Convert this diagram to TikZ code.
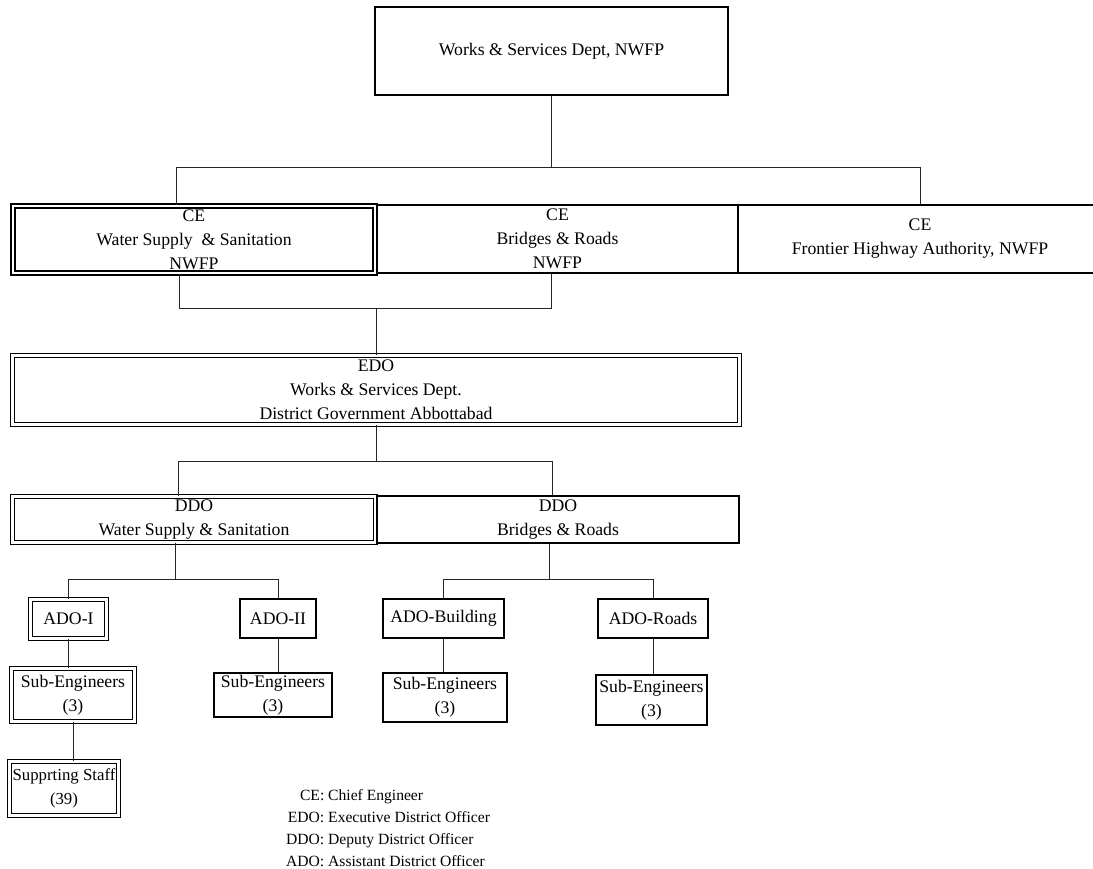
\documentclass[tikz,border=0pt]{standalone}
\usepackage{fontspec}
\setmainfont{Liberation Serif}
\newcommand\bigtxt{\fontsize{17.7}{24}\selectfont}
\newcommand\stafftxt{\fontsize{16.8}{24}\selectfont}
\newcommand\legtxt{\fontsize{15.6}{22}\selectfont}
\begin{document}
\begin{tikzpicture}[x=1pt,y=-1pt,
  box/.style={draw, line width=1.9pt, inner sep=0pt, align=center, font=\bigtxt},
  smallbox/.style={draw, line width=1.2pt, inner sep=0pt, align=center, font=\bigtxt},
  dbox/.style={draw, double, line width=1.75pt, double distance=2.2pt, inner sep=0pt, align=center, font=\bigtxt},
  conn/.style={line width=0.9pt, draw=black!85}]
\clip (0,0) rectangle (1093,869);
\fill[white] (0,0) rectangle (1093,869);

% top
\node[box, minimum width=353pt, minimum height=88pt] (top) at (551.5,51) {Works \& Services Dept, NWFP};

% CE row
\node[dbox, minimum width=362pt, minimum height=67pt] (ceWSS) at (194,239.5) {CE\\Water Supply\ \ \& Sanitation\\NWFP};
\node[box, minimum width=361pt, minimum height=68pt] (ceBR) at (557.5,239) {CE\\Bridges \& Roads\\NWFP};
\node[box, minimum width=364pt, minimum height=68pt] (ceFHA) at (920,239) {CE\\Frontier Highway Authority, NWFP};

% EDO
\node[dbox, minimum width=727pt, minimum height=69pt] (edo) at (376,390) {EDO\\Works \& Services Dept.\\District Government Abbottabad};

% DDO row
\node[dbox, minimum width=363pt, minimum height=46pt] (ddoWSS) at (194,519.5) {DDO\\Water Supply \& Sanitation};
\node[box, minimum width=362pt, minimum height=47pt] (ddoBR) at (558,519.5) {DDO\\Bridges \& Roads};

% ADO row
\node[dbox, minimum width=76pt, minimum height=39pt] (adoI) at (68.5,619) {ADO-I};
\node[smallbox, minimum width=76pt, minimum height=39pt] (adoII) at (278,618.5) {ADO-II};
\node[smallbox, minimum width=121pt, minimum height=39pt] (adoB) at (443.5,618.5) {ADO-Building};
\node[smallbox, minimum width=110pt, minimum height=39pt] (adoR) at (653,618.5) {ADO-Roads};

% Sub-engineers
\node[dbox, minimum width=123pt, minimum height=53pt] (seI) at (73,695) {Sub-Engineers\\(3)};
\node[smallbox, minimum width=118pt, minimum height=44pt] (seII) at (273,695) {Sub-Engineers\\(3)};
\node[smallbox, minimum width=124pt, minimum height=49pt] (seB) at (445,697.5) {Sub-Engineers\\(3)};
\node[smallbox, minimum width=111pt, minimum height=50pt] (seR) at (651.5,700) {Sub-Engineers\\(3)};

% supporting staff
\node[dbox, font=\stafftxt, minimum width=109pt, minimum height=54pt] (staff) at (64,788.5) {Supprting Staff\\(39)};

% legend
\node[anchor=base west, inner sep=0pt, font=\legtxt] (legend) at (286,800)
  {\begin{tabular}[t]{@{}r@{\ }l@{}}
   CE: & Chief Engineer\\
   EDO: & Executive District Officer\\
   DDO: & Deputy District Officer\\
   ADO: & Assistant District Officer
   \end{tabular}};

% bus 1
\coordinate (b1L) at (176,167);
\coordinate (b1R) at (920,167);
\draw[conn] (top.south) -- (top.south |- b1L);
\draw[conn] (b1L) -- (b1R);
\draw[conn] (b1L) -- (b1L |- ceWSS.north);
\draw[conn] (b1R) -- (ceFHA.north);

% bus 2
\coordinate (b2L) at (179,308);
\coordinate (b2R) at (551,308);
\draw[conn] (b2L |- ceWSS.south) -- (b2L) -- (b2R) -- (b2R |- ceBR.south);
\draw[conn] (edo.north) -- (edo.north |- b2L);

% bus 3
\coordinate (b3L) at (178,461);
\coordinate (b3R) at (552,461);
\draw[conn] (edo.south) -- (edo.south |- b3L);
\draw[conn] (b3L |- ddoWSS.north) -- (b3L) -- (b3R) -- (b3R |- ddoBR.north);

% bus 4
\coordinate (b4) at (175,579);
\coordinate (b4L) at (68.5,579);
\coordinate (b4R) at (278,579);
\draw[conn] (b4 |- ddoWSS.south) -- (b4);
\draw[conn] (adoI.north) -- (b4L) -- (b4R) -- (adoII.north);

% bus 5
\coordinate (b5) at (549,579);
\coordinate (b5L) at (443.5,579);
\coordinate (b5R) at (653,579);
\draw[conn] (b5 |- ddoBR.south) -- (b5);
\draw[conn] (adoB.north) -- (b5L) -- (b5R) -- (adoR.north);

% ADO to sub-engineers
\draw[conn] (adoI.south) -- (adoI.south |- seI.north);
\draw[conn] (adoII.south) -- (adoII.south |- seII.north);
\draw[conn] (adoB.south) -- (adoB.south |- seB.north);
\draw[conn] (adoR.south) -- (adoR.south |- seR.north);
\draw[conn] (seI.south) -- (seI.south |- staff.north);
\end{tikzpicture}
\end{document}
